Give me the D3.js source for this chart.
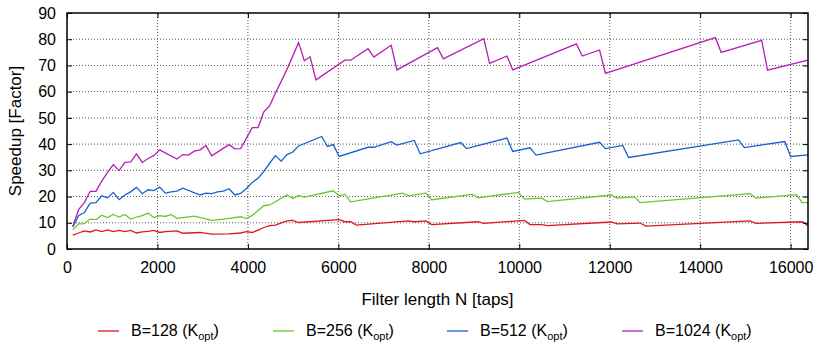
<!DOCTYPE html>
<html>
<head>
<meta charset="utf-8">
<script src="https://cdn.jsdelivr.net/npm/d3@7"></script>
<style>
  html, body { margin: 0; padding: 0; background: #fff; }
  svg { display: block; font-family: "Liberation Sans", Arial, Helvetica, sans-serif; }
  .grid line { stroke: #555; stroke-dasharray: 1, 2; }
</style>
</head>
<body>
<svg id="chart" width="825" height="348"></svg>
<script>
// tick values
const xTicks = [0, 2000, 4000, 6000, 8000, 10000, 12000, 14000, 16000];
const yTicks = [0, 10, 20, 30, 40, 50, 60, 70, 80, 90];

// B=128
const tapsB128 = [128, 256, 384, 512, 640, 768, 896, 1024, 1152, 1280, 1408, 1536, 1664, 1792, 1920, 2048, 2176, 2432, 2560, 2944, 3200, 3584, 3840, 3968, 4096, 4224, 4352, 4480, 4608, 4736, 4864, 4992, 5120, 6016, 6144, 6272, 6400, 7552, 7680, 7936, 8064, 9088, 9216, 10112, 10240, 10496, 10624, 12032, 12160, 12672, 12800, 15104, 15232, 16256, 16384];
const speedupB128 = [5.3, 6.1, 6.9, 6.5, 7.3, 6.6, 7.3, 6.6, 7.1, 6.6, 7.1, 6.1, 6.5, 6.7, 7.1, 6.3, 6.6, 6.9, 6.0, 6.3, 5.7, 5.8, 6.1, 6.6, 6.3, 7.2, 8.2, 8.9, 9.1, 10.0, 10.7, 10.9, 10.1, 11.2, 10.4, 10.4, 9.1, 10.7, 10.4, 10.7, 9.3, 10.4, 9.8, 10.9, 9.3, 9.3, 8.9, 10.3, 9.6, 9.9, 8.7, 10.7, 9.8, 10.4, 8.9];

// B=256
const tapsB256 = [128, 256, 384, 512, 640, 768, 896, 1024, 1152, 1280, 1408, 1536, 1664, 1792, 1920, 2048, 2176, 2304, 2432, 2560, 2816, 3200, 3456, 3584, 3840, 3968, 4096, 4352, 4480, 4608, 4864, 4992, 5120, 5248, 5888, 6016, 6144, 6272, 7424, 7552, 7936, 8064, 8960, 9088, 9984, 10112, 10496, 10624, 12032, 12160, 12544, 12672, 15104, 15232, 16128, 16256, 16384];
const speedupB256 = [7.3, 9.6, 9.7, 11.4, 11.2, 12.9, 12.0, 13.2, 12.2, 13.2, 11.4, 12.2, 12.7, 13.7, 12.0, 12.7, 12.4, 13.2, 11.7, 12.0, 12.5, 10.9, 11.4, 11.7, 12.3, 11.6, 12.8, 16.5, 16.8, 18.0, 20.6, 19.3, 20.4, 19.8, 22.2, 20.3, 20.9, 18.0, 21.3, 20.3, 21.3, 18.8, 20.8, 19.5, 21.6, 19.0, 19.4, 18.1, 20.6, 19.4, 19.9, 17.7, 21.1, 19.4, 20.7, 17.7, 17.7];

// B=512
const tapsB512 = [128, 256, 384, 512, 640, 768, 896, 1024, 1152, 1280, 1408, 1536, 1664, 1792, 1920, 2048, 2176, 2304, 2432, 2560, 2944, 3072, 3200, 3328, 3456, 3584, 3712, 3840, 3968, 4096, 4224, 4352, 4480, 4608, 4736, 4864, 4992, 5120, 5632, 5760, 5888, 6016, 6656, 6784, 7168, 7296, 7680, 7808, 8704, 8832, 9728, 9856, 10240, 10368, 11776, 11904, 12288, 12416, 14848, 14976, 15872, 16000, 16384];
const speedupB512 = [8.4, 12.7, 13.9, 17.5, 17.7, 20.3, 19.5, 21.6, 18.8, 20.6, 21.8, 23.5, 21.1, 22.6, 22.3, 23.6, 21.3, 21.8, 22.1, 23.2, 20.6, 21.3, 21.1, 21.8, 22.1, 23.0, 20.6, 21.2, 23.1, 25.4, 27.0, 29.6, 32.7, 35.6, 33.5, 36.0, 37.0, 39.3, 42.9, 39.1, 39.8, 35.3, 38.8, 38.8, 40.9, 39.6, 41.4, 36.3, 40.6, 38.3, 42.3, 37.2, 38.6, 35.8, 40.7, 38.3, 39.5, 34.9, 41.6, 38.7, 41.0, 35.3, 35.9];

// B=1024
const tapsB1024 = [128, 256, 384, 512, 640, 768, 896, 1024, 1152, 1280, 1408, 1536, 1664, 1792, 1920, 2048, 2432, 2560, 2688, 2816, 2944, 3072, 3200, 3584, 3712, 3840, 4096, 4224, 4352, 4480, 4608, 4864, 5120, 5248, 5376, 5504, 6144, 6272, 6656, 6784, 7168, 7296, 8192, 8320, 9216, 9344, 9728, 9856, 11264, 11392, 11776, 11904, 14336, 14464, 15360, 15488, 16384];
const speedupB1024 = [8.6, 15.0, 17.7, 22.0, 22.0, 25.9, 29.2, 32.2, 29.9, 33.0, 33.2, 36.3, 33.0, 34.5, 35.6, 37.8, 34.3, 36.0, 35.8, 37.3, 37.8, 39.5, 35.5, 39.8, 38.2, 38.3, 46.3, 46.3, 52.3, 54.6, 59.4, 68.5, 78.7, 71.8, 73.3, 64.5, 72.0, 72.0, 76.4, 73.2, 77.7, 68.3, 76.8, 72.5, 80.2, 70.8, 73.6, 68.3, 78.2, 73.6, 75.9, 67.0, 80.6, 75.0, 79.6, 68.2, 72.0];

const seriesNames = ["B=128", "B=256", "B=512", "B=1024"];
const seriesColors = ["#e4141b", "#66c82e", "#1a5fd0", "#b41fb4"];
const seriesTaps = [tapsB128, tapsB256, tapsB512, tapsB1024];
const seriesSpeedup = [speedupB128, speedupB256, speedupB512, speedupB1024];

const svg = d3.select("#chart");
const margin = { top: 13, right: 17, bottom: 99, left: 67 };
const width = 825;
const height = 348;
const fontFamily = "Liberation Sans, Arial, sans-serif";

const x = d3.scaleLinear().domain([0, 16384]).range([margin.left, width - margin.right]);
const y = d3.scaleLinear().domain([0, 90]).range([height - margin.bottom, margin.top]);

// grid
svg.append("g")
  .attr("class", "grid")
  .selectAll("line")
  .data(xTicks.filter((d) => d > 0))
  .join("line")
  .attr("x1", (d) => x(d)).attr("x2", (d) => x(d))
  .attr("y1", y(0)).attr("y2", y(90));

svg.append("g")
  .attr("class", "grid")
  .selectAll("line")
  .data(yTicks.filter((d) => d > 0 && d < 90))
  .join("line")
  .attr("x1", x(0)).attr("x2", x(16384))
  .attr("y1", (d) => y(d)).attr("y2", (d) => y(d));

// lines
const line = d3.line()
  .x((d) => x(d[0]))
  .y((d) => y(d[1]));

seriesNames.forEach((name, i) => {
  const pts = seriesTaps[i].map((t, j) => [t, seriesSpeedup[i][j]]);
  svg.append("path")
    .datum(pts)
    .attr("fill", "none")
    .attr("stroke", seriesColors[i])
    .attr("stroke-width", 1.3)
    .attr("d", line);
});

// axes (inward ticks, gnuplot style)
svg.append("g")
  .attr("transform", `translate(0,${y(0)})`)
  .call(d3.axisBottom(x).tickValues(xTicks).tickSizeInner(-5).tickSizeOuter(0).tickPadding(13).tickFormat(d3.format("d")))
  .call((g) => g.select(".domain").remove())
  .call((g) => g.selectAll("text").attr("font-size", 16).attr("fill", "#000").attr("font-family", fontFamily));

svg.append("g")
  .attr("transform", `translate(0,${y(90)})`)
  .call(d3.axisTop(x).tickValues(xTicks).tickSizeInner(-5).tickSizeOuter(0).tickFormat(""))
  .call((g) => g.select(".domain").remove());

svg.append("g")
  .attr("transform", `translate(${x(0)},0)`)
  .call(d3.axisLeft(y).tickValues(yTicks).tickSizeInner(-5).tickSizeOuter(0).tickPadding(11))
  .call((g) => g.select(".domain").remove())
  .call((g) => g.selectAll("text").attr("font-size", 16).attr("fill", "#000").attr("font-family", fontFamily));

svg.append("g")
  .attr("transform", `translate(${x(16384)},0)`)
  .call(d3.axisRight(y).tickValues(yTicks).tickSizeInner(-5).tickSizeOuter(0).tickFormat(""))
  .call((g) => g.select(".domain").remove());

// frame
svg.append("rect")
  .attr("x", x(0)).attr("y", y(90))
  .attr("width", x(16384) - x(0)).attr("height", y(0) - y(90))
  .attr("fill", "none").attr("stroke", "#000").attr("stroke-width", 1.5);

// axis titles
svg.append("text")
  .attr("x", (x(0) + x(16384)) / 2)
  .attr("y", 305)
  .attr("text-anchor", "middle")
  .attr("font-size", 17)
  .text("Filter length N [taps]");

svg.append("text")
  .attr("transform", `translate(21,${(y(0) + y(90)) / 2}) rotate(-90)`)
  .attr("text-anchor", "middle")
  .attr("font-size", 17)
  .text("Speedup [Factor]");

// legend
const legendX = [98, 273, 447, 622];
const legend = svg.append("g")
  .selectAll("g")
  .data(seriesNames)
  .join("g")
  .attr("transform", (d, i) => `translate(${legendX[i]},331)`);

legend.append("line")
  .attr("x1", 0).attr("x2", 21)
  .attr("y1", 0).attr("y2", 0)
  .attr("stroke", (d, i) => seriesColors[i])
  .attr("stroke-width", 1.3);

const lt = legend.append("text")
  .attr("x", 33)
  .attr("y", 5)
  .attr("font-size", 16);
lt.append("tspan").text((d) => `${d} (K`);
lt.append("tspan").attr("font-size", 11).attr("dy", 4).text("opt");
lt.append("tspan").attr("dy", -4).text(")");
</script>
</body>
</html>
